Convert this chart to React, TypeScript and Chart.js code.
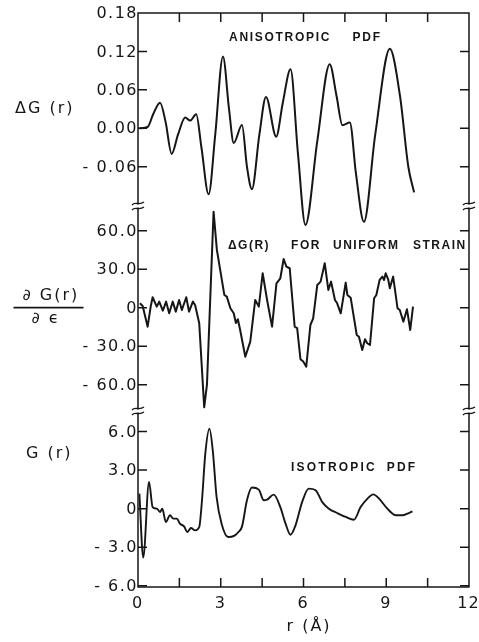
import React, { useEffect, useRef } from "react";
import { Chart, registerables } from "chart.js";

Chart.register(...registerables);

// ---------- data ----------
// Top panel: anisotropic PDF, ΔG(r)
const R_ANISO = [0.05, 0.35, 0.55, 0.8, 1.0, 1.22, 1.45, 1.71, 1.89, 2.11, 2.3, 2.56, 2.8, 3.08, 3.3, 3.47, 3.77, 3.95, 4.13, 4.4, 4.64, 5.01, 5.25, 5.53, 5.8, 6.07, 6.5, 6.95, 7.2, 7.41, 7.68, 7.9, 8.19, 8.6, 9.13, 9.5, 9.8, 10.01];
const DG_ANISO = [0.0, 0.002, 0.022, 0.04, 0.01, -0.04, -0.01, 0.017, 0.012, 0.022, -0.03, -0.103, -0.01, 0.112, 0.03, -0.023, 0.005, -0.06, -0.095, -0.01, 0.049, -0.013, 0.04, 0.092, -0.04, -0.151, -0.02, 0.1, 0.05, 0.005, 0.009, -0.07, -0.146, -0.01, 0.124, 0.05, -0.06, -0.1];

// Middle panel: ∂G(r)/∂ε for uniform strain
const R_STRAIN = [0.07, 0.17, 0.35, 0.46, 0.53, 0.68, 0.77, 0.9, 1.02, 1.13, 1.26, 1.37, 1.49, 1.59, 1.75, 1.85, 1.99, 2.07, 2.22, 2.4, 2.5, 2.74, 2.86, 2.96, 3.13, 3.22, 3.35, 3.47, 3.55, 3.62, 3.7, 3.89, 4.07, 4.25, 4.38, 4.52, 4.68, 4.86, 5.02, 5.16, 5.28, 5.38, 5.5, 5.68, 5.77, 5.89, 5.99, 6.1, 6.25, 6.35, 6.5, 6.62, 6.77, 6.9, 7.0, 7.14, 7.22, 7.35, 7.53, 7.59, 7.71, 7.93, 8.01, 8.13, 8.23, 8.31, 8.41, 8.56, 8.64, 8.76, 8.86, 8.92, 8.98, 9.07, 9.13, 9.25, 9.41, 9.49, 9.62, 9.75, 9.87, 9.97];
const DG_STRAIN = [3.4, 1.3, -14.8, 0.8, 8.1, 0.8, 4.7, -2.3, 4.7, -4.4, 4.7, -3.1, 6, -1.8, 8.1, -3.1, 4.7, 2.1, -12.2, -77.6, -60, 74.8, 45, 32, 9.9, 8.6, -0.5, -4.4, -12, -9, -17, -38.2, -26.5, 6, 0.8, 26.8, 6, -14.8, 19, 22.9, 37.9, 32, 30.7, -14.8, -16, -40.2, -42, -46, -13.5, -8.3, 17.7, 20.3, 34.6, 13.8, 20.3, 6, 3.4, -4.4, 19.5, 9.9, 7.8, -21.3, -22.6, -33, -24.6, -27.7, -29.1, 7.3, 9.9, 21.6, 24.2, 21.6, 26.8, 22.1, 15.1, 24.2, -0.5, -1.8, -10.9, -1.2, -17.4, 0.8];

// Bottom panel: isotropic PDF, G(r)
const R_ISO = [0.05, 0.19, 0.4, 0.53, 0.68, 0.8, 0.88, 1.01, 1.16, 1.28, 1.41, 1.52, 1.67, 1.79, 1.92, 2.07, 2.22, 2.32, 2.44, 2.59, 2.71, 2.85, 3.03, 3.27, 3.5, 3.65, 3.77, 3.95, 4.13, 4.38, 4.56, 4.68, 4.92, 5.16, 5.35, 5.53, 5.71, 5.95, 6.19, 6.44, 6.68, 6.92, 7.22, 7.53, 7.83, 8.07, 8.32, 8.53, 8.74, 9.04, 9.35, 9.59, 9.77, 9.95];
const G_ISO = [1.17, -3.8, 2.07, 0.12, 0, -0.26, 0, -1.04, -0.52, -0.78, -0.78, -1.17, -1.38, -1.82, -1.51, -1.69, -1.43, 0.65, 4.28, 6.23, 4.54, 0.9, -1.17, -2.21, -2.1, -1.8, -1.4, 0.65, 1.64, 1.48, 0.65, 0.7, 1.09, 0.12, -1.17, -2.03, -1.3, 0.51, 1.56, 1.43, 0.51, 0, -0.34, -0.65, -0.86, 0.12, 0.78, 1.11, 0.78, 0, -0.52, -0.52, -0.39, -0.21];

// Axis ticks and labels
const X_TICK_VALUES = [0, 1.5, 3, 4.5, 6, 7.5, 9, 10.5, 12];
const X_TICK_LABELS = ["0", "", "3", "", "6", "", "9", "", "12"];
const TOP_TICKS = [0.18, 0.12, 0.06, 0, -0.06];
const TOP_LABELS = ["0.18", "0.12", "0.06", "0.00", "- 0.06"];
const MID_TICKS = [60, 30, 0, -30, -60];
const MID_LABELS = ["60.0", "30.0", "0", "- 30.0", "- 60.0"];
const BOT_TICKS = [6, 3, 0, -3, -6];
const BOT_LABELS = ["6.0", "3.0", "0", "- 3.0", "- 6.0"];

// In-plot annotations (word, r, value, panel axis)
const NOTES = [
  { text: "ANISOTROPIC", r: 3.3, v: 0.143, axis: "yTop", sp: 1.7 },
  { text: "PDF", r: 7.78, v: 0.143, axis: "yTop", sp: 1.7 },
  { text: "ΔG(R)", r: 3.26, v: 48.9, axis: "yMid", sp: 1.5 },
  { text: "FOR", r: 5.55, v: 48.9, axis: "yMid", sp: 1.5 },
  { text: "UNIFORM", r: 7.07, v: 48.9, axis: "yMid", sp: 1.5 },
  { text: "STRAIN", r: 9.97, v: 48.9, axis: "yMid", sp: 1.5 },
  { text: "ISOTROPIC", r: 5.55, v: 3.26, axis: "yBot", sp: 2.2 },
  { text: "PDF", r: 9.02, v: 3.26, axis: "yBot", sp: 2.2 },
];

const INK = "#161616";
const TICK_FONT = "16px 'DejaVu Sans'";
const TITLE_FONT = "16px 'DejaVu Sans'";
const NOTE_FONT = "bold 12px 'Liberation Sans'";

function spaced(ctx: CanvasRenderingContext2D, text: string, x: number, y: number, sp: number, align: "left" | "right" | "center") {
  const chars = Array.from(text);
  const w = chars.map((c) => ctx.measureText(c).width);
  const total = w.reduce((a, b) => a + b, 0) + sp * (chars.length - 1);
  let cx = align === "right" ? x - total : align === "center" ? x - total / 2 : x;
  ctx.textAlign = "left";
  chars.forEach((c, i) => {
    ctx.fillText(c, cx, y);
    cx += w[i] + sp;
  });
}

function drawBreak(ctx: CanvasRenderingContext2D, x: number, y: number) {
  ctx.save();
  ctx.fillStyle = "#fff";
  ctx.fillRect(x - 2, y - 1.5, 4, 3);
  ctx.strokeStyle = INK;
  ctx.lineWidth = 1.3;
  for (const dy of [-2.5, 2.5]) {
    ctx.beginPath();
    ctx.moveTo(x - 6, y + dy + 1.5);
    ctx.bezierCurveTo(x - 3, y + dy - 2.5, x + 1, y + dy + 2.5, x + 6, y + dy - 1.5);
    ctx.stroke();
  }
  ctx.restore();
}

const decor = {
  id: "decor",
  afterDraw(chart: any) {
    const ctx: CanvasRenderingContext2D = chart.ctx;
    const { left, right, top, bottom } = chart.chartArea;
    const sx = chart.scales.x;
    const panels = [
      { s: chart.scales.yTop, ticks: TOP_TICKS, labels: TOP_LABELS },
      { s: chart.scales.yMid, ticks: MID_TICKS, labels: MID_LABELS },
      { s: chart.scales.yBot, ticks: BOT_TICKS, labels: BOT_LABELS },
    ];
    ctx.save();
    ctx.strokeStyle = INK;
    ctx.fillStyle = INK;
    ctx.lineWidth = 1.5;
    ctx.lineCap = "butt";
    // frame
    ctx.strokeRect(left, top, right - left, bottom - top);
    const TL = 9;
    ctx.beginPath();
    X_TICK_VALUES.forEach((v) => {
      const px = sx.getPixelForValue(v);
      if (px <= left + 1 || px >= right - 1) return;
      ctx.moveTo(px, bottom);
      ctx.lineTo(px, bottom - TL);
      ctx.moveTo(px, top);
      ctx.lineTo(px, top + TL);
    });
    panels.forEach((p) => {
      p.ticks.forEach((v) => {
        const py = p.s.getPixelForValue(v);
        if (py <= top + 1 || py >= bottom - 1) return;
        ctx.moveTo(left, py);
        ctx.lineTo(left + TL, py);
        ctx.moveTo(right, py);
        ctx.lineTo(right - TL, py);
      });
    });
    ctx.stroke();

    // axis breaks
    const b1 = chart.scales.yTop.bottom;
    const b2 = chart.scales.yMid.bottom;
    [b1, b2].forEach((y) => {
      drawBreak(ctx, left, y);
      drawBreak(ctx, right, y);
    });

    // y tick labels
    ctx.font = TICK_FONT;
    ctx.textBaseline = "middle";
    panels.forEach((p) => {
      p.ticks.forEach((v, i) => {
        const py = p.s.getPixelForValue(v);
        spaced(ctx, p.labels[i], left - 1.5, py + 1, 1.5, "right");
      });
    });
    // x tick labels
    X_TICK_VALUES.forEach((v, i) => {
      if (!X_TICK_LABELS[i]) return;
      spaced(ctx, X_TICK_LABELS[i], sx.getPixelForValue(v) - 1, bottom + 17, 1, "center");
    });

    // annotations
    ctx.font = NOTE_FONT;
    NOTES.forEach((n) => {
      const s = chart.scales[n.axis];
      spaced(ctx, n.text, sx.getPixelForValue(n.r), s.getPixelForValue(n.v) + 1, n.sp, "left");
    });

    // axis titles
    ctx.font = TITLE_FONT;
    const yT = chart.scales.yTop.getPixelForValue(0.03);
    spaced(ctx, "ΔG (r)", 15, yT, 2, "left");
    const y0 = chart.scales.yMid.getPixelForValue(0);
    spaced(ctx, "∂ G(r)", 22.5, y0 - 12, 2, "left");
    spaced(ctx, "∂ ϵ", 31.5, y0 + 11.5, 2, "left");
    ctx.lineWidth = 1.6;
    ctx.beginPath();
    ctx.moveTo(13.5, y0);
    ctx.lineTo(83.5, y0);
    ctx.stroke();
    const yB = chart.scales.yBot.getPixelForValue(4.3);
    spaced(ctx, "G (r)", 26, yB, 2, "left");
    ctx.textBaseline = "alphabetic";
    spaced(ctx, "r (Å)", 286.5, 631, 2, "left");
    ctx.restore();
  },
};

export default function App() {
  const ref = useRef<HTMLCanvasElement>(null);
  useEffect(() => {
    const canvas = ref.current;
    if (!canvas) return;
    const pts = (xs: number[], ys: number[]) => xs.map((x, i) => ({ x, y: ys[i] }));
    const hiddenY = (w: number, sw: number, min: number, max: number) => ({
      type: "linear" as const,
      position: "left" as const,
      stack: "panels",
      stackWeight: sw,
      weight: w,
      min,
      max,
      grid: { display: false },
      border: { display: false },
      ticks: { display: false },
      afterFit: (s: any) => {
        s.width = 0;
      },
    });
    const chart = new Chart(canvas, {
      type: "line",
      data: {
        datasets: [
          {
            label: "ANISOTROPIC PDF",
            data: pts(R_ANISO, DG_ANISO),
            xAxisID: "x",
            yAxisID: "yTop",
            borderColor: INK,
            borderWidth: 2,
            pointRadius: 0,
            cubicInterpolationMode: "monotone",
            clip: false,
            fill: false,
          },
          {
            label: "ΔG(R) FOR UNIFORM STRAIN",
            data: pts(R_STRAIN, DG_STRAIN),
            xAxisID: "x",
            yAxisID: "yMid",
            borderColor: INK,
            borderWidth: 2,
            pointRadius: 0,
            tension: 0,
            borderJoinStyle: "round",
            clip: false,
            fill: false,
          },
          {
            label: "ISOTROPIC PDF",
            data: pts(R_ISO, G_ISO),
            xAxisID: "x",
            yAxisID: "yBot",
            borderColor: INK,
            borderWidth: 1.9,
            pointRadius: 0,
            cubicInterpolationMode: "monotone",
            clip: false,
            fill: false,
          },
        ],
      },
      options: {
        responsive: false,
        animation: false,
        events: [],
        layout: { padding: { left: 138, right: 10, top: 13, bottom: 55 }, autoPadding: false },
        plugins: { legend: { display: false }, tooltip: { enabled: false }, title: { display: false } },
        scales: {
          x: {
            type: "linear",
            min: 0,
            max: 12,
            grid: { display: false },
            border: { display: false },
            ticks: { display: false },
            afterFit: (s: any) => {
              s.height = 0;
            },
          },
          yTop: hiddenY(3, 193, -0.1213, 0.18),
          yMid: hiddenY(2, 205, -80.5, 79.2),
          yBot: hiddenY(1, 176, -6.1, 7.6),
        },
      } as any,
      plugins: [decor],
    });
    return () => chart.destroy();
  }, []);
  return (
    <div style={{ position: "fixed", left: 0, top: 0, width: 479, height: 642, background: "#fff" }}>
      <canvas ref={ref} width={479} height={642} style={{ display: "block" }} />
    </div>
  );
}
